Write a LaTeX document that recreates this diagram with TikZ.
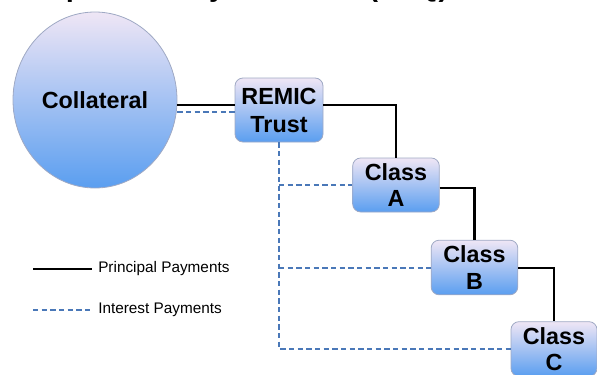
\documentclass[tikz,border=0pt]{standalone}
\usepackage{fontspec}
\setmainfont{Liberation Sans}
\usetikzlibrary{shapes.geometric}
\definecolor{boxtop}{HTML}{EFE6F5}
\definecolor{boxbot}{HTML}{5A9EF0}
\definecolor{boxline}{HTML}{9FA9C4}
\definecolor{dashblue}{HTML}{4A78B8}
\tikzset{
  tranche/.style={draw=boxline, line width=0.6pt, rounded corners=6pt,
    top color=boxtop, bottom color=boxbot, align=center,
    font=\fontsize{17.5}{20}\selectfont\bfseries, inner sep=0pt},
  principal/.style={draw=black, line width=2.2pt},
  interest/.style={draw=dashblue, line width=1.5pt, dash pattern=on 4pt off 2.5pt},
  legendtext/.style={anchor=west, font=\fontsize{11.5}{13}\selectfont, inner sep=0pt}
}
\begin{document}
\begin{tikzpicture}[x=0.75pt, y=-0.75pt]
\useasboundingbox (0,0) rectangle (597,375);
\clip (0,0) rectangle (597,375);
% cut-off title
\node (title) [anchor=base west, inner sep=0pt, font=\fontsize{21.5}{24}\selectfont\bfseries] at (21,-4) {Sequential Pay Structure (SEQ)};
% collateral
\node (coll) [ellipse, draw=boxline, line width=0.6pt, top color=boxtop, bottom color=boxbot,
  minimum width=123pt, minimum height=132pt, inner sep=0pt,
  font=\fontsize{17.5}{20}\selectfont\bfseries] at (95,100) {Collateral};
% tranches
\node (remic) [tranche, minimum width=66pt, minimum height=48pt] at (279,110) {REMIC\\[1pt]Trust};
\node (ca) [tranche, minimum width=65pt, minimum height=40.5pt] at (396,185) {Class\\A};
\node (cb) [tranche, minimum width=65pt, minimum height=41pt] at (474.5,267.5) {Class\\B};
\node (cc) [tranche, minimum width=64.5pt, minimum height=41pt] at (554,349) {Class\\C};
% principal payments
\draw[principal] (coll.east |- 0,105) -- (remic.west |- 0,105);
\draw[principal] (remic.east |- 0,105) -| (ca.north);
\draw[principal] (ca.east |- 0,188) -| (cb.north);
\draw[principal] (cb.east |- 0,268) -| (cc.north);
% interest payments
\draw[interest] (coll.east |- 0,112) -- (remic.west |- 0,112);
\coordinate (ia) at (remic.south |- ca.west);
\coordinate (ib) at (remic.south |- cb.west);
\coordinate (ic) at (remic.south |- cc.west);
\draw[interest] (remic.south) -- (ic) -- (cc.west);
\draw[interest] (ia) -- (ca.west);
\draw[interest] (ib) -- (cb.west);
% legend
\coordinate (l1a) at (33,269);
\coordinate (l1b) at (92,269);
\coordinate (l2a) at (33,310);
\coordinate (l2b) at (92,310);
\draw[principal] (l1a) -- (l1b);
\draw[interest, line width=1.2pt] (l2a) -- (l2b);
\node (lt1) [legendtext] at (98,269) {Principal Payments};
\node (lt2) [legendtext] at (98,310) {Interest Payments};
\end{tikzpicture}
\end{document}
